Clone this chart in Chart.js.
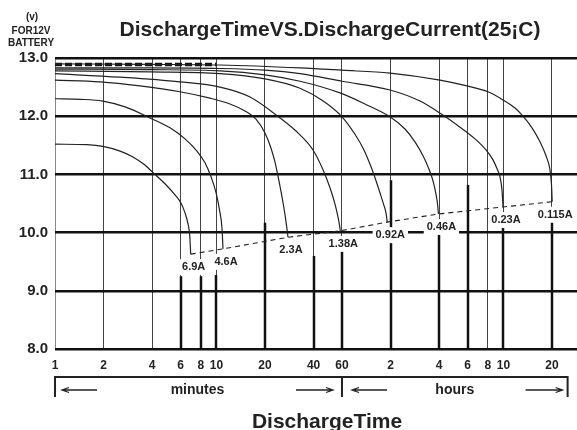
<!DOCTYPE html>
<html><head><meta charset="utf-8">
<script src="https://cdn.jsdelivr.net/npm/chart.js@4"></script>
<style>html,body{margin:0;padding:0;background:#fff}#wrap{width:577px;height:430px}</style>
</head><body><div id="wrap"><canvas id="c" width="577" height="430"></canvas></div>
<script>
// ---- data (time in minutes, voltage in V) ----
const tickValues = [1, 2, 4, 6, 8, 10, 20, 40, 60, 120, 240, 360, 480, 600, 1200];
const tickLabels = ['1', '2', '4', '6', '8', '10', '20', '40', '60', '2', '4', '6', '8', '10', '20'];
const currents = ['6.9A', '4.6A', '2.3A', '1.38A', '0.92A', '0.46A', '0.23A', '0.115A'];

const t_6_9 = [1, 1.58, 1.98, 2.53, 3.04, 3.61, 4.05, 4.8, 5.54, 6.03, 6.39, 6.67, 6.84, 6.93];
const v_6_9 = [11.52, 11.51, 11.48, 11.40, 11.30, 11.16, 11.03, 10.84, 10.65, 10.51, 10.34, 10.15, 9.94, 9.63];
const t_4_6 = [1, 1.43, 1.98, 2.72, 3.88, 5.16, 6.39, 7.58, 8.5, 9.26, 9.94, 10.45, 10.83, 10.99];
const v_4_6 = [12.30, 12.29, 12.26, 12.16, 11.97, 11.80, 11.61, 11.40, 11.20, 10.96, 10.69, 10.39, 10.08, 9.72];
const t_2_3 = [1, 1.9, 3.36, 5.95, 9.13, 12.14, 15.04, 17.6, 20.0, 21.8, 23.08, 24.08, 25.13, 26.04, 26.8, 27.38, 27.77];
const v_2_3 = [12.62, 12.59, 12.52, 12.42, 12.31, 12.21, 12.09, 11.95, 11.71, 11.45, 11.21, 10.97, 10.71, 10.47, 10.25, 10.06, 9.92];
const t_1_38 = [1, 2.53, 5.95, 10.53, 16.16, 24.78, 32.96, 39.68, 45.77, 50.56, 54.3, 56.67, 57.9, 58.57];
const v_1_38 = [12.73, 12.67, 12.59, 12.50, 12.33, 11.97, 11.68, 11.42, 11.08, 10.77, 10.49, 10.27, 10.13, 10.03];
const t_0_92 = [1, 3.88, 10.53, 20.0, 32.96, 47.1, 60.0, 72.2, 82.1, 90.8, 97.5, 103.2, 108.5, 112.4, 114.5];
const v_0_92 = [12.78, 12.76, 12.73, 12.64, 12.48, 12.24, 11.99, 11.69, 11.42, 11.13, 10.89, 10.68, 10.49, 10.34, 10.18];
const t_0_46 = [1, 3.88, 10.53, 20.0, 32.96, 58.3, 83.3, 119, 147.4, 170, 190.6, 207.6, 219.8, 229.4, 235, 237.4];
const v_0_46 = [12.81, 12.80, 12.78, 12.71, 12.60, 12.40, 12.21, 11.99, 11.78, 11.56, 11.32, 11.09, 10.89, 10.66, 10.47, 10.32];
const t_0_23 = [1, 3.88, 10.53, 20.0, 32.96, 60.0, 119, 182.6, 246.4, 323.1, 400.2, 468.2, 517.4, 551.5, 571.6, 588.2, 596.8];
const v_0_23 = [12.83, 12.83, 12.82, 12.79, 12.73, 12.60, 12.45, 12.26, 12.04, 11.81, 11.61, 11.42, 11.25, 11.08, 10.96, 10.73, 10.44];
const t_0_115 = [1, 3.88, 10.53, 32.96, 60.0, 119, 242.9, 356.9, 481.7, 596.8, 708.1, 793.5, 902.4, 1011.6, 1102, 1166, 1192, 1204];
const v_0_115 = [12.90, 12.89, 12.88, 12.83, 12.79, 12.74, 12.62, 12.52, 12.42, 12.28, 12.14, 12.00, 11.80, 11.56, 11.32, 11.08, 10.82, 10.53];
const topDashTime = [1, 10];
const topDashVolt = [12.89, 12.89];

const curveTimes = [t_6_9, t_4_6, t_2_3, t_1_38, t_0_92, t_0_46, t_0_23, t_0_115];
const curveVolts = [v_6_9, v_4_6, v_2_3, v_1_38, v_0_92, v_0_46, v_0_23, v_0_115];

// ---- build datasets ----
const FONT = '"Liberation Sans", Arial, Helvetica, sans-serif';
const toPts = (ts, vs) => ts.map((t, i) => ({x: t, y: vs[i]}));
const datasets = curveTimes.map((ts, i) => ({
  label: currents[i], data: toPts(ts, curveVolts[i]),
  borderColor: '#222', borderWidth: 1.2, pointRadius: 0,
  cubicInterpolationMode: 'monotone', fill: false
}));
datasets.push({
  label: 'end', data: curveTimes.map((ts, i) => ({x: ts[ts.length - 1], y: curveVolts[i][curveVolts[i].length - 1]})),
  borderColor: '#222', borderWidth: 1.1, borderDash: [5, 4], pointRadius: 0, tension: 0, fill: false
});
datasets.push({
  label: 'top', data: toPts(topDashTime, topDashVolt),
  borderColor: '#111', borderWidth: 3.5, borderDash: [7, 3], pointRadius: 0, tension: 0, fill: false
});

// thicker lower segments of vertical grid lines (style)
const thickFrom = {6: 9.25, 8: 9.25, 10: 9.27, 20: 10.17, 40: 9.6, 60: 9.72, 120: 10.9, 240: 9.99, 360: 10.82, 600: 10.1, 1200: 10.18};

function arrow(ctx, x1, x2, y) {
  ctx.beginPath();
  ctx.moveTo(x1, y); ctx.lineTo(x2, y);
  const d = x2 > x1 ? -1 : 1;
  ctx.moveTo(x2 + d * 7, y - 2.5); ctx.lineTo(x2, y); ctx.lineTo(x2 + d * 7, y + 2.5);
  ctx.stroke();
}

const decor = {
  id: 'decor',
  beforeDatasetsDraw(chart) {
    const {ctx, chartArea, scales: {x, y}} = chart;
    ctx.save();
    ctx.strokeStyle = '#111'; ctx.lineWidth = 2.5;
    Object.keys(thickFrom).forEach(k => {
      const px = Math.round(x.getPixelForValue(+k));
      ctx.beginPath();
      ctx.moveTo(px, y.getPixelForValue(thickFrom[k]));
      ctx.lineTo(px, chartArea.bottom);
      ctx.stroke();
    });
    ctx.restore();
  },
  afterDatasetsDraw(chart) {
    const {ctx, scales: {x, y}} = chart;
    ctx.save();
    ctx.font = 'bold 11px ' + FONT;
    ctx.textAlign = 'center'; ctx.textBaseline = 'middle';
    curveTimes.forEach((ts, i) => {
      const vs = curveVolts[i];
      const px = x.getPixelForValue(ts[ts.length - 1]) + 3;
      const py = y.getPixelForValue(vs[vs.length - 1]) + 13;
      const w = ctx.measureText(currents[i]).width;
      ctx.fillStyle = '#fff';
      ctx.fillRect(px - w / 2 - 3, py - 8, w + 6, 16);
      ctx.fillStyle = '#222';
      ctx.fillText(currents[i], px, py);
    });
    ctx.restore();
  },
  afterDraw(chart) {
    const {ctx, chartArea, scales: {x}} = chart;
    ctx.save();
    ctx.fillStyle = '#222'; ctx.strokeStyle = '#222';
    ctx.textAlign = 'center'; ctx.textBaseline = 'alphabetic';
    ctx.font = 'bold 21px ' + FONT;
    ctx.fillText('DischargeTimeVS.DischargeCurrent(25¡C)', 330, 36);
    ctx.font = 'bold 10px ' + FONT;
    ctx.fillText('(v)', 32, 20);
    ctx.fillText('FOR12V', 31, 34);
    ctx.fillText('BATTERY', 31, 46);
    ctx.font = 'bold 21px ' + FONT;
    ctx.fillText('DischargeTime', 327, 428);
    // bracket
    const x0 = x.getPixelForValue(1), xm = x.getPixelForValue(60), x1 = x.getPixelForValue(1500);
    const yb = chartArea.bottom + 28, ya = yb + 13;
    ctx.lineWidth = 2;
    ctx.beginPath();
    ctx.moveTo(x0, yb + 20); ctx.lineTo(x0, yb); ctx.lineTo(x1, yb); ctx.lineTo(x1, yb + 20);
    ctx.moveTo(xm, yb); ctx.lineTo(xm, yb + 20);
    ctx.stroke();
    ctx.lineWidth = 1.3;
    arrow(ctx, x0 + 42, x0 + 7, ya);
    arrow(ctx, xm - 46, xm - 9, ya);
    arrow(ctx, xm + 45, xm + 10, ya);
    arrow(ctx, x1 - 42, x1 - 5, ya);
    ctx.font = 'bold 14px ' + FONT;
    ctx.textBaseline = 'middle';
    ctx.fillText('minutes', (x0 + xm) / 2 - 1, ya);
    ctx.fillText('hours', (xm + x1) / 2, ya);
    ctx.restore();
  }
};

new Chart(document.getElementById('c'), {
  type: 'line',
  data: {datasets},
  plugins: [decor],
  options: {
    responsive: false, animation: false, devicePixelRatio: 1,
    layout: {padding: {top: 58, left: 0, right: 0, bottom: 0}},
    plugins: {legend: {display: false}, tooltip: {enabled: false}},
    scales: {
      x: {
        type: 'logarithmic', min: 1, max: 1715, bounds: 'data',
        afterBuildTicks: axis => { axis.ticks = tickValues.map(v => ({value: v})); },
        afterFit: axis => { axis.height = 81; },
        ticks: {
          autoSkip: false, maxRotation: 0, padding: 9, color: '#222',
          font: {family: FONT, size: 12, weight: 'bold'},
          callback: (v, i) => tickLabels[i]
        },
        grid: {
          drawTicks: false, lineWidth: 1,
          color: c => (c.tick && c.tick.value === 1) ? '#888' : '#444'
        },
        border: {display: false}
      },
      y: {
        min: 8, max: 13,
        afterFit: axis => { axis.width = 55; },
        ticks: {
          stepSize: 1, padding: 7, color: '#222',
          font: {family: FONT, size: 15, weight: 'bold'},
          callback: v => v.toFixed(1)
        },
        grid: {drawTicks: false, lineWidth: 2.5, color: '#111'},
        border: {display: false}
      }
    }
  }
});
</script></body></html>
